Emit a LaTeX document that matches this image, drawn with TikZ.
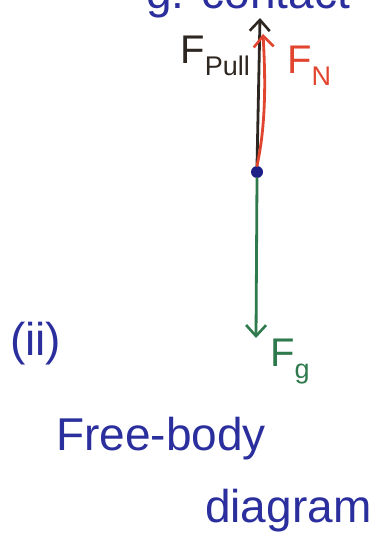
\documentclass[tikz,border=0pt]{standalone}
\usepackage{fontspec}
\setmainfont{Liberation Sans}
\usetikzlibrary{arrows.meta}
\definecolor{inkblue}{HTML}{2B2F9E}
\definecolor{inkblack}{HTML}{2E2620}
\definecolor{inkred}{HTML}{E2452F}
\definecolor{inkgreen}{HTML}{2F7A4C}
\definecolor{inknavy}{HTML}{1C1F86}
\tikzset{
  force/.style={line width=2.8pt, line cap=round, -{Straight Barb[length=11pt,width=20pt,line width=2.6pt]}},
  hand/.style={inner sep=0pt, font=\fontsize{46}{50}\selectfont},
  lab/.style={inner sep=0pt, font=\fontsize{40}{44}\selectfont},
}
\newcommand{\sbs}[1]{\raisebox{-0.3em}{\fontsize{27}{30}\selectfont #1}}
\begin{document}
\begin{tikzpicture}[x=1pt,y=-1pt]
\useasboundingbox (0,0) rectangle (375,540);
\begin{scope}
\clip (0,0) rectangle (375,540);
\node[hand, text=inkblue, anchor=base west] (top) at (146,9) {g. contact};
\end{scope}
\node[circle, fill=inknavy, minimum size=12pt, inner sep=0pt] (body) at (257,172) {};
\coordinate (pulltip) at (260,18);
\coordinate (ntip) at (263,34);
\coordinate (gtip) at (256,338);
\draw[force, inkblack] (body.north) -- (pulltip);
\draw[force, inkred] (body.north) .. controls (267,120) and (265,70) .. (ntip);
\draw[force, inkgreen] (body.south) -- (gtip);
\node[lab, text=inkblack, anchor=base east] (fpull) at (250,64) {F\sbs{Pull}};
\node[lab, text=inkred, anchor=base west] (fn) at (287,74) {F\sbs{N}};
\node[lab, text=inkgreen, anchor=base west] (fg) at (270,366) {F\sbs{g}};
\node[hand, text=inkblue, anchor=base west] (ii) at (10,355) {(ii)};
\node[hand, text=inkblue, anchor=base west] (fb) at (56,450) {Free-body};
\node[hand, text=inkblue, anchor=base west] (dg) at (205,522) {diagram};
\end{tikzpicture}
\end{document}
